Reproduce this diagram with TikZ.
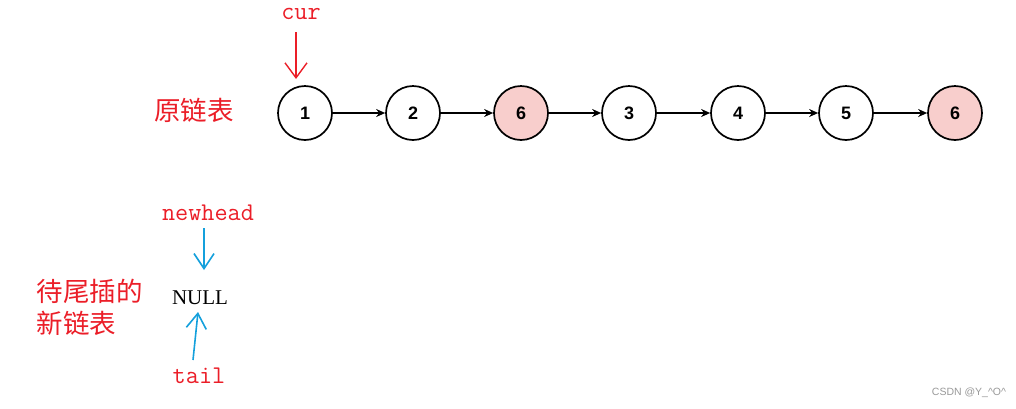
\documentclass[tikz,border=0pt]{standalone}
\usepackage{fontspec}
\setmainfont{Liberation Serif}
\setsansfont{Liberation Sans}
\newfontfamily\lmmono{Latin Modern Mono}
\newfontfamily\cjk{Noto Sans CJK SC}
\usetikzlibrary{arrows.meta}
\definecolor{lred}{RGB}{235,30,40}
\definecolor{lblue}{RGB}{20,160,220}
\definecolor{pinkfill}{RGB}{248,206,204}
\tikzset{
  lnode/.style={circle,draw=black,line width=1.7pt,minimum size=54pt,inner sep=0pt,font=\sffamily\bfseries\fontsize{18}{18}\selectfont,fill=white},
  hl/.style={fill=pinkfill},
  link/.style={-{Stealth[length=9pt,width=8pt]},line width=1.3pt,black},
  redlbl/.style={text=lred,font=\lmmono\fontsize{25.5}{25.5}\selectfont},
  cjklbl/.style={text=lred,font=\cjk\fontsize{26.5}{32}\selectfont,align=left},
  handred/.style={draw=lred,line width=1.4pt,-{Straight Barb[length=15pt,width=22pt,line width=1.4pt]}},
  handblue/.style={draw=lblue,line width=1.6pt,-{Straight Barb[length=15pt,width=20pt,line width=1.6pt]}}
}
\begin{document}
\begin{tikzpicture}[x=1pt,y=-1pt]
\useasboundingbox (0,0) rectangle (1016,408);
\node[lnode] (n1) at (305,113) {1};
\node[lnode] (n2) at (413,113) {2};
\node[lnode,hl] (n3) at (521,113) {6};
\node[lnode] (n4) at (629,113) {3};
\node[lnode] (n5) at (738,113) {4};
\node[lnode] (n6) at (846,113) {5};
\node[lnode,hl] (n7) at (955,113) {6};
\foreach \a/\b in {n1/n2,n2/n3,n3/n4,n4/n5,n5/n6,n6/n7}
  \draw[link] (\a) -- (\b);
\node[redlbl] (cur) at (301,14) {cur};
\coordinate (curtip) at (296,79);
\draw[handred] (296,32) -- (curtip);
\node[cjklbl] (orig) at (194,110) {原链表};
\node[redlbl] (newhead) at (208,213) {newhead};
\node[font=\fontsize{21}{21}\selectfont] (null) at (200,298) {NULL};
\node[redlbl] (tail) at (199,376) {tail};
\draw[handblue] (204,228) -- (204,270);
\draw[handblue] (193,360) -- (198,312);
\node[cjklbl,anchor=west] (newlist) at (33,307) {待尾插的\\新链表};
\node[text=gray!80,font=\sffamily\fontsize{10.5}{11}\selectfont] (wm) at (969,393) {CSDN @Y\_\textasciicircum O\textasciicircum};
\end{tikzpicture}
\end{document}
